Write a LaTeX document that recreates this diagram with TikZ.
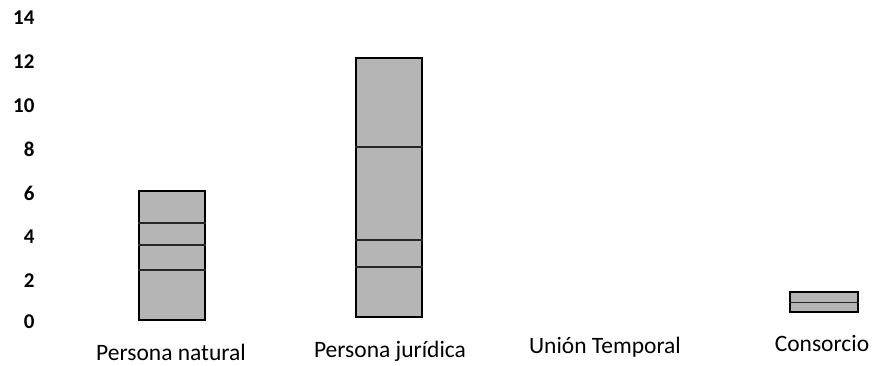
\documentclass[tikz,border=0pt]{standalone}
\usepackage{fontspec}
\setmainfont{Carlito}
\begin{document}
\begin{tikzpicture}[x=1pt,y=-1pt,
  ylab/.style={anchor=east,font=\fontsize{21}{21}\selectfont\bfseries},
  catlab/.style={anchor=center,font=\fontsize{23.5}{23.5}\selectfont},
  bar/.style={draw=black,line width=1.8pt,fill=gray!58,inner sep=0pt,anchor=south west},
  stripe/.style={line width=1.1pt,black!85}]
\useasboundingbox (0,0) rectangle (875,365);
% y axis labels
\foreach \v/\yy in {0/322,2/281,4/237,6/193,8/149,10/106,12/62,14/18}
  \node[ylab] (y\v) at (38,\yy) {\v};
% bars
\node[bar,minimum width=66pt,minimum height=129pt] (b1) at (138,321) {};
\node[bar,minimum width=66pt,minimum height=259pt] (b2) at (355,318) {};
\node[bar,minimum width=68pt,minimum height=20pt] (b4) at (789,313) {};
% stripes inside bars
\foreach \yy in {223,245,270}
  \draw[stripe] (b1.west |- 0,\yy) -- (b1.east |- 0,\yy);
\foreach \yy in {147,240,267}
  \draw[stripe] (b2.west |- 0,\yy) -- (b2.east |- 0,\yy);
\draw[stripe] (b4.west) -- (b4.east);
% category labels
\node[catlab] (c1) at (171,352) {Persona natural};
\node[catlab] (c2) at (390,351) {Persona jurídica};
\node[catlab] (c3) at (605,347) {Unión Temporal};
\node[catlab] (c4) at (822,343) {Consorcio};
\end{tikzpicture}
\end{document}
